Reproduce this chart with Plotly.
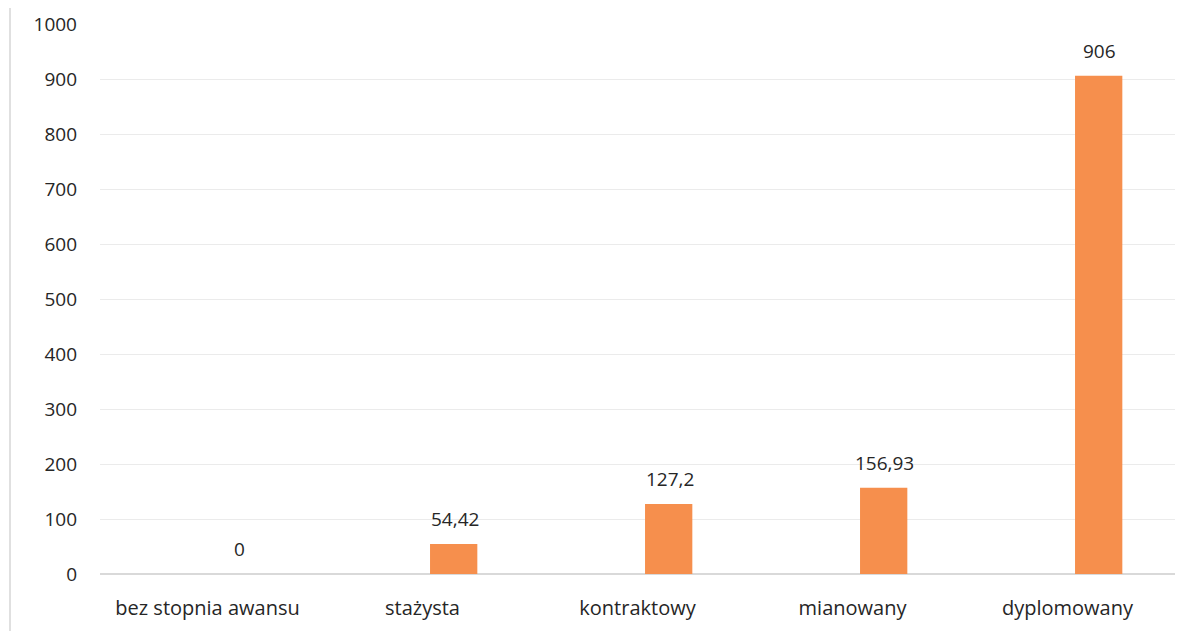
import plotly.graph_objects as go

categories = ["bez stopnia awansu", "stażysta", "kontraktowy", "mianowany", "dyplomowany"]
values = [0, 54.42, 127.2, 156.93, 906]
value_labels = ["0", "54,42", "127,2", "156,93", "906"]
y_ticks = list(range(0, 1001, 100))

FONT = "Open Sans"
TXT = "#262626"

fig = go.Figure()
fig.add_trace(go.Bar(
    x=categories, y=values,
    marker=dict(color="#F68F4D", line=dict(width=0)),
    width=0.22, offset=0.035,
    hoverinfo="x+y",
))

annotations = []
for c, v, t in zip(categories, values, value_labels):
    annotations.append(dict(x=c, y=v, text=t, showarrow=False, xanchor="center",
                            yanchor="bottom", yshift=10, xshift=32,
                            font=dict(family=FONT, size=19, color=TXT)))

fig.update_layout(
    width=1183, height=623,
    margin=dict(l=92, r=16, t=16, b=57),
    paper_bgcolor="white", plot_bgcolor="white",
    font=dict(family=FONT, size=19, color=TXT),
    showlegend=False,
    xaxis=dict(showgrid=False, showline=False, ticks="", tickfont=dict(size=20),
               ticklabelstandoff=20, automargin=False, ticklabeloverflow="allow"),
    yaxis=dict(range=[0, 1000], tickvals=y_ticks, showgrid=True, gridcolor="#EBEBEB",
               gridwidth=1, zeroline=True, zerolinecolor="#D9D9D9", zerolinewidth=2,
               ticks="", ticklabelstandoff=22, tickfont=dict(size=19), automargin=False,
               ticklabeloverflow="allow"),
    annotations=annotations,
    shapes=[dict(type="line", xref="paper", yref="paper", x0=-0.0837, x1=-0.0837,
                 y0=-0.11, y1=1.03, line=dict(color="#E0E0E0", width=2))],
)

fig.write_html("out.html")
